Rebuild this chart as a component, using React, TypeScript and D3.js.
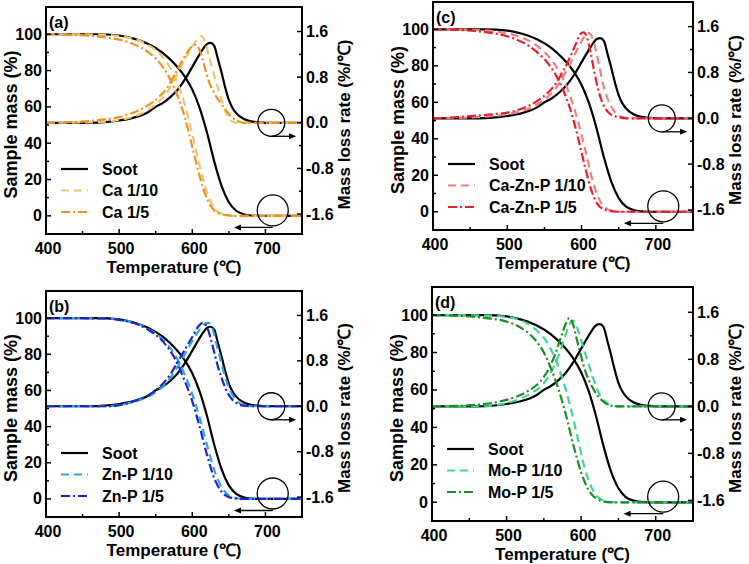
import React from "react";
import * as d3 from "d3";

type Pt = [number, number];

// temperature (℃) vs sample mass (%) and mass loss rate (%/℃)
const SOOT_TG: Pt[] = [[400, 100], [470, 100], [500, 99.3], [520, 97.6], [540, 94.6], [560, 89.6], [575, 84], [590, 76.5], [600, 69.5], [610, 59.5], [620, 46], [630, 30], [640, 16.5], [650, 7.5], [660, 2.8], [670, 0.9], [680, 0.2], [690, 0], [750, 0]];
const SOOT_DTG: Pt[] = [[400, 0], [460, 0], [480, 0.01], [500, 0.04], [520, 0.09], [530, 0.13], [540, 0.19], [550, 0.28], [560, 0.35], [570, 0.45], [580, 0.58], [590, 0.76], [600, 0.98], [610, 1.2], [615, 1.3], [620, 1.38], [625, 1.4], [630, 1.35], [635, 1.12], [640, 0.88], [645, 0.62], [650, 0.4], [655, 0.26], [660, 0.17], [670, 0.07], [680, 0.025], [690, 0.01], [700, 0], [750, 0]];

const CA10_TG: Pt[] = [[400, 100], [480, 99.8], [500, 99], [520, 97.5], [540, 94], [555, 89.5], [570, 81.5], [580, 73], [590, 61], [600, 45], [610, 28], [620, 13], [630, 4.5], [640, 1.2], [650, 0.3], [660, 0], [750, 0]];
const CA5_TG: Pt[] = [[400, 100], [440, 99.6], [470, 98.8], [500, 97], [520, 94.5], [540, 90], [555, 84.5], [570, 75], [580, 66], [590, 54], [600, 38], [610, 22], [620, 9.5], [630, 3], [640, 0.9], [650, 0.2], [660, 0], [750, 0]];
const CA10_DTG: Pt[] = [[400, 0], [470, 0.01], [500, 0.05], [520, 0.11], [540, 0.23], [555, 0.38], [570, 0.62], [580, 0.88], [590, 1.12], [600, 1.33], [608, 1.48], [613, 1.52], [618, 1.4], [623, 1.16], [628, 0.92], [634, 0.66], [640, 0.4], [645, 0.21], [650, 0.08], [655, 0.02], [660, 0], [750, 0]];
const CA5_DTG: Pt[] = [[400, 0], [430, 0.01], [450, 0.02], [480, 0.06], [500, 0.1], [520, 0.18], [540, 0.31], [555, 0.46], [565, 0.6], [575, 0.82], [585, 1.06], [595, 1.27], [603, 1.37], [609, 1.3], [614, 1.12], [619, 0.88], [624, 0.68], [630, 0.52], [638, 0.36], [646, 0.22], [654, 0.1], [662, 0.03], [670, 0], [750, 0]];

const ZNP10_TG: Pt[] = [[400, 100], [480, 99.8], [500, 99.2], [520, 97.5], [540, 94], [560, 88], [575, 80.5], [590, 68.5], [600, 58], [610, 45], [620, 30], [630, 16], [640, 6.5], [650, 2], [660, 0.5], [670, 0], [750, 0]];
const ZNP5_TG: Pt[] = [[400, 100], [480, 99.8], [500, 99], [520, 97.3], [540, 93.5], [560, 87], [575, 78.5], [590, 65], [600, 54], [610, 40], [620, 24.5], [630, 11.5], [640, 4], [650, 1], [660, 0.2], [670, 0], [750, 0]];
const ZNP10_DTG: Pt[] = [[400, 0], [480, 0], [500, 0.02], [520, 0.08], [540, 0.17], [550, 0.25], [560, 0.35], [570, 0.5], [580, 0.7], [590, 0.92], [600, 1.15], [610, 1.35], [618, 1.46], [622, 1.47], [628, 1.35], [633, 1.1], [638, 0.85], [643, 0.6], [648, 0.4], [655, 0.2], [662, 0.08], [670, 0.02], [680, 0], [750, 0]];
const ZNP5_DTG: Pt[] = [[400, 0], [490, 0], [500, 0.02], [520, 0.09], [540, 0.19], [550, 0.28], [560, 0.4], [570, 0.56], [580, 0.78], [590, 1.0], [600, 1.22], [608, 1.4], [614, 1.47], [620, 1.4], [625, 1.2], [630, 0.95], [635, 0.7], [640, 0.5], [646, 0.3], [652, 0.16], [660, 0.06], [670, 0.01], [680, 0], [750, 0]];

const CZP10_TG: Pt[] = [[400, 100], [450, 99.8], [480, 99], [500, 97.8], [520, 95.5], [540, 91], [560, 83], [575, 73], [585, 63], [595, 50], [605, 34], [615, 17], [623, 7.5], [632, 2.2], [642, 0.5], [652, 0], [750, 0]];
const CZP5_TG: Pt[] = [[400, 100], [440, 99.6], [470, 98.5], [500, 96.2], [520, 93], [540, 87.5], [560, 78.5], [575, 67], [585, 56], [595, 41], [605, 24], [613, 12], [621, 4.5], [630, 1.3], [640, 0.3], [650, 0], [750, 0]];
const CZP10_DTG: Pt[] = [[400, 0], [440, 0.01], [470, 0.03], [500, 0.07], [520, 0.13], [540, 0.24], [555, 0.38], [565, 0.52], [575, 0.72], [585, 0.96], [595, 1.22], [603, 1.41], [609, 1.49], [614, 1.42], [619, 1.2], [624, 0.9], [629, 0.6], [634, 0.38], [640, 0.2], [646, 0.09], [655, 0.02], [665, 0], [750, 0]];
const CZP5_DTG: Pt[] = [[400, 0], [420, 0.01], [450, 0.04], [480, 0.07], [500, 0.1], [520, 0.17], [540, 0.3], [555, 0.45], [565, 0.6], [575, 0.82], [585, 1.08], [593, 1.32], [599, 1.48], [603, 1.5], [607, 1.42], [612, 1.16], [617, 0.82], [622, 0.52], [627, 0.31], [633, 0.15], [640, 0.06], [650, 0.02], [660, 0], [750, 0]];

const MOP10_TG: Pt[] = [[400, 100], [470, 99.8], [500, 99], [520, 97], [540, 92], [555, 85], [565, 77], [575, 66], [585, 52], [595, 35], [605, 18], [615, 7], [625, 2], [635, 0.5], [645, 0], [750, 0]];
const MOP5_TG: Pt[] = [[400, 100], [440, 99.5], [470, 98.5], [500, 96.5], [520, 93], [540, 86], [550, 80], [560, 71], [570, 60], [580, 46], [590, 30], [600, 16], [610, 6.5], [620, 2], [630, 0.5], [640, 0], [750, 0]];
const MOP10_DTG: Pt[] = [[400, 0], [470, 0], [490, 0.03], [510, 0.09], [530, 0.2], [545, 0.33], [555, 0.48], [565, 0.72], [575, 1.05], [583, 1.35], [588, 1.46], [592, 1.42], [597, 1.25], [603, 1.0], [610, 0.72], [617, 0.45], [624, 0.22], [632, 0.08], [640, 0.02], [650, 0], [750, 0]];
const MOP5_DTG: Pt[] = [[400, 0], [440, 0.01], [470, 0.04], [490, 0.08], [510, 0.15], [530, 0.27], [545, 0.42], [555, 0.6], [565, 0.88], [573, 1.18], [580, 1.42], [584, 1.5], [589, 1.4], [594, 1.15], [600, 0.85], [606, 0.58], [612, 0.4], [620, 0.22], [628, 0.1], [636, 0.03], [645, 0], [750, 0]];

const X_TICKS = [400, 500, 600, 700];
const X_MINOR = [450, 550, 650, 750];
const L_TICKS = [0, 20, 40, 60, 80, 100];
const L_MINOR = [10, 30, 50, 70, 90];
const R_TICKS = [-1.6, -0.8, 0, 0.8, 1.6];
const R_MINOR = [-1.2, -0.4, 0.4, 1.2];

const FONT = "'Liberation Sans', Arial, sans-serif";
const DASH = "8 5";
const DASHDOT = "9 3 2 3";

type Series = { name: string; tg: Pt[]; dtg: Pt[]; color: string; dash?: string };

const soot: Series = { name: "Soot", tg: SOOT_TG, dtg: SOOT_DTG, color: "#000000" };

const PANELS: { tag: string; box: [number, number, number, number]; series: Series[] }[] = [
  {
    tag: "(a)", box: [46, 7, 302, 234],
    series: [soot,
      { name: "Ca 1/10", tg: CA10_TG, dtg: CA10_DTG, color: "#E9C672", dash: DASH },
      { name: "Ca 1/5", tg: CA5_TG, dtg: CA5_DTG, color: "#F0901E", dash: DASHDOT }],
  },
  {
    tag: "(b)", box: [46, 291, 302, 517],
    series: [soot,
      { name: "Zn-P 1/10", tg: ZNP10_TG, dtg: ZNP10_DTG, color: "#29A8E0", dash: DASH },
      { name: "Zn-P 1/5", tg: ZNP5_TG, dtg: ZNP5_DTG, color: "#2222C8", dash: DASHDOT }],
  },
  {
    tag: "(c)", box: [433, 2, 693, 230],
    series: [soot,
      { name: "Ca-Zn-P 1/10", tg: CZP10_TG, dtg: CZP10_DTG, color: "#F08080", dash: DASH },
      { name: "Ca-Zn-P 1/5", tg: CZP5_TG, dtg: CZP5_DTG, color: "#E8202A", dash: DASHDOT }],
  },
  {
    tag: "(d)", box: [432, 287, 693, 521],
    series: [soot,
      { name: "Mo-P 1/10", tg: MOP10_TG, dtg: MOP10_DTG, color: "#3DD39A", dash: DASH },
      { name: "Mo-P 1/5", tg: MOP5_TG, dtg: MOP5_DTG, color: "#1F8A1F", dash: DASHDOT }],
  },
];

function Panel({ tag, box, series, idx }: { tag: string; box: [number, number, number, number]; series: Series[]; idx: number }) {
  const [x0, y0, x1, y1] = box;
  const x = d3.scaleLinear().domain([400, 750]).range([x0, x1]);
  const yL = d3.scaleLinear().domain([-10, 115]).range([y1, y0]);
  const yR = d3.scaleLinear().domain([-1.95, 2.03]).range([y1, y0]);
  const lineL = d3.line<Pt>().x((d) => x(d[0])).y((d) => yL(d[1])).curve(d3.curveMonotoneX);
  const lineR = d3.line<Pt>().x((d) => x(d[0])).y((d) => yR(d[1])).curve(d3.curveMonotoneX);
  const clipId = `clip-${idx}`;

  // annotation circles and arrows
  const c1x = x(708), c1y = yR(0), r1 = 13.5;
  const c2x = x(710), c2y = yL(3), r2 = 15.5;
  const a1y = c1y + r1, a1end = x(742);
  const a2y = c2y + r2 + 1.5, a2end = x(657);

  return (
    <g>
      <defs>
        <clipPath id={clipId}>
          <rect x={x0} y={y0} width={x1 - x0} height={y1 - y0} />
        </clipPath>
      </defs>
      <g clipPath={`url(#${clipId})`}>
        {series.map((s) => (
          <g key={s.name}>
            <path d={lineL(s.tg) ?? ""} fill="none" stroke={s.color} strokeWidth={2.2} strokeDasharray={s.dash} />
            <path d={lineR(s.dtg) ?? ""} fill="none" stroke={s.color} strokeWidth={2.2} strokeDasharray={s.dash} />
          </g>
        ))}
      </g>

      {/* annotations */}
      <circle cx={c1x} cy={c1y} r={r1} fill="none" stroke="#000" strokeWidth={1.3} />
      <circle cx={c2x} cy={c2y} r={r2} fill="none" stroke="#000" strokeWidth={1.3} />
      <line x1={c1x} y1={a1y} x2={a1end - 6} y2={a1y} stroke="#000" strokeWidth={1.3} />
      <polygon points={`${a1end},${a1y} ${a1end - 7},${a1y - 3} ${a1end - 7},${a1y + 3}`} fill="#000" />
      <line x1={c2x} y1={a2y} x2={a2end + 6} y2={a2y} stroke="#000" strokeWidth={1.3} />
      <polygon points={`${a2end},${a2y} ${a2end + 7},${a2y - 3} ${a2end + 7},${a2y + 3}`} fill="#000" />

      {/* frame */}
      <rect x={x0} y={y0} width={x1 - x0} height={y1 - y0} fill="none" stroke="#000" strokeWidth={2} />

      {/* x ticks */}
      {X_TICKS.map((t) => (
        <g key={`xt${t}`}>
          <line x1={x(t)} x2={x(t)} y1={y1} y2={y1 - 5} stroke="#000" strokeWidth={1.5} />
          <text x={x(t) + 2} y={y1 + 20} textAnchor="middle" fontSize={16} fontWeight="bold" fontFamily={FONT}>{t}</text>
        </g>
      ))}
      {X_MINOR.map((t) => (
        <line key={`xm${t}`} x1={x(t)} x2={x(t)} y1={y1} y2={y1 - 3} stroke="#000" strokeWidth={1.5} />
      ))}

      {/* left ticks */}
      {L_TICKS.map((t) => (
        <g key={`lt${t}`}>
          <line x1={x0} x2={x0 + 5} y1={yL(t)} y2={yL(t)} stroke="#000" strokeWidth={1.5} />
          <text x={x0 - 4} y={yL(t)} textAnchor="end" dominantBaseline="central" fontSize={16} fontWeight="bold" fontFamily={FONT}>{t}</text>
        </g>
      ))}
      {L_MINOR.map((t) => (
        <line key={`lm${t}`} x1={x0} x2={x0 + 3} y1={yL(t)} y2={yL(t)} stroke="#000" strokeWidth={1.5} />
      ))}

      {/* right ticks */}
      {R_TICKS.map((t) => (
        <g key={`rt${t}`}>
          <line x1={x1} x2={x1 - 5} y1={yR(t)} y2={yR(t)} stroke="#000" strokeWidth={1.5} />
          <text x={x1 + 4} y={yR(t)} textAnchor="start" dominantBaseline="central" fontSize={16} fontWeight="bold" fontFamily={FONT}>{t.toFixed(1)}</text>
        </g>
      ))}
      {R_MINOR.map((t) => (
        <line key={`rm${t}`} x1={x1} x2={x1 - 3} y1={yR(t)} y2={yR(t)} stroke="#000" strokeWidth={1.5} />
      ))}

      {/* titles */}
      <text transform={`translate(${x0 - 35},${(y0 + y1) / 2 + 4}) rotate(-90)`} textAnchor="middle" dominantBaseline="central" fontSize={18} fontWeight="bold" fontFamily={FONT}>Sample mass (%)</text>
      <text transform={`translate(${x1 + 42},${(y0 + y1) / 2 + 4}) rotate(-90)`} textAnchor="middle" dominantBaseline="central" fontSize={17} fontWeight="bold" fontFamily={FONT}>Mass loss rate (%/℃)</text>
      <text x={(x0 + x1) / 2} y={y1 + 39} textAnchor="middle" fontSize={17} fontWeight="bold" fontFamily={FONT}>Temperature (℃)</text>
      <text x={x0 + 3} y={y0 + 21} fontSize={16} fontWeight="bold" fontFamily={FONT}>{tag}</text>

      {/* legend */}
      {series.map((s, i) => {
        const ly = y0 + 162 + i * 21.5;
        return (
          <g key={`lg${s.name}`}>
            <line x1={x0 + 15} x2={x0 + 42} y1={ly} y2={ly} stroke={s.color} strokeWidth={2.2} strokeDasharray={s.dash} />
            <text x={x0 + 56} y={ly} dominantBaseline="central" fontSize={16} fontWeight="bold" fontFamily={FONT}>{s.name}</text>
          </g>
        );
      })}
    </g>
  );
}

export default function App() {
  return (
    <svg width={749} height={564} style={{ position: "absolute", left: 0, top: 0, background: "#fff" }}>
      <rect width={749} height={564} fill="#fff" />
      {PANELS.map((p, i) => (
        <Panel key={p.tag} tag={p.tag} box={p.box} series={p.series} idx={i} />
      ))}
    </svg>
  );
}
